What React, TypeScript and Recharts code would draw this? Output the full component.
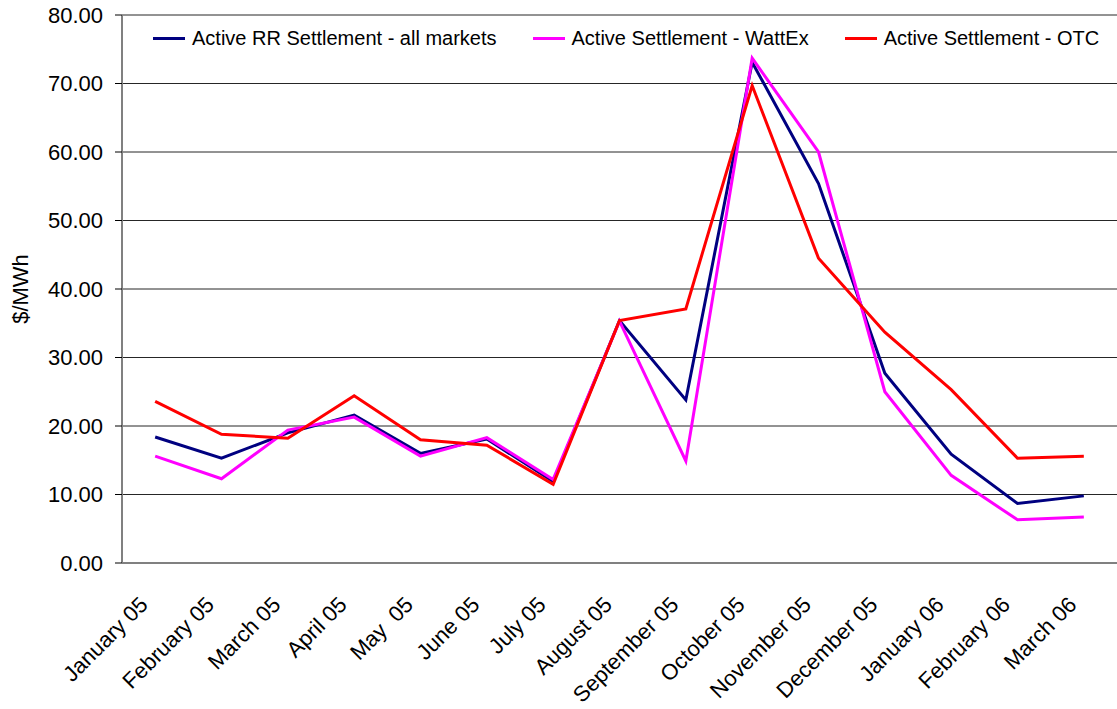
import React from 'react';
import { LineChart, Line, XAxis, YAxis, CartesianGrid } from 'recharts';

const months = [
  'January 05', 'February 05', 'March 05', 'April 05', 'May  05', 'June 05', 'July 05',
  'August 05', 'September 05', 'October 05', 'November 05', 'December 05',
  'January 06', 'February 06', 'March 06',
];
const rrAllMarkets = [18.4, 15.3, 19.0, 21.6, 16.0, 18.1, 11.9, 35.4, 23.8, 73.1, 55.4, 27.7, 15.9, 8.7, 9.8];
const wattEx = [15.6, 12.3, 19.4, 21.3, 15.6, 18.3, 12.2, 35.3, 14.9, 73.7, 60.0, 25.0, 12.8, 6.3, 6.7];
const otc = [23.6, 18.8, 18.2, 24.4, 18.0, 17.2, 11.5, 35.4, 37.1, 69.7, 44.5, 33.7, 25.3, 15.3, 15.6];
const yTicks = [0, 10, 20, 30, 40, 50, 60, 70, 80];

const series = [
  { key: 'rr', name: 'Active RR Settlement - all markets', color: '#000080', values: rrAllMarkets },
  { key: 'wattex', name: 'Active Settlement - WattEx', color: '#FF00FF', values: wattEx },
  { key: 'otc', name: 'Active Settlement - OTC', color: '#FF0000', values: otc },
];

const data = months.map((m, i) => ({
  month: m,
  rr: rrAllMarkets[i],
  wattex: wattEx[i],
  otc: otc[i],
}));

const edgeTicks = months.map((_, i) => i).concat(months.length);

const FONT = '"Liberation Sans", Arial, sans-serif';

// rotated month label, end of text sits just left of the category centre
const MonthTick = (props: any) => {
  const { x, y, payload } = props;
  return (
    <g transform={`translate(${x - 6},${y + 43})`}>
      <text
        transform="rotate(-45)"
        textAnchor="end"
        fontSize={22}
        fill="#000"
        fontFamily={FONT}
        style={{ whiteSpace: 'pre' }}
      >
        {payload.value}
      </text>
    </g>
  );
};

const UnitLabel = (props: any) => {
  const vb = props.viewBox || {};
  const cx = (vb.x || 0) + 20;
  const cy = (vb.y || 0) + (vb.height || 0) / 2;
  return (
    <text
      x={cx}
      y={cy}
      transform={`rotate(-90, ${cx}, ${cy})`}
      textAnchor="middle"
      dominantBaseline="central"
      fontSize={22}
      fill="#000"
      fontFamily={FONT}
    >
      $/MWh
    </text>
  );
};

export default function App() {
  return (
    <div style={{ position: 'absolute', left: 0, top: 0, width: 1117, height: 709, background: '#fff', fontFamily: FONT }}>
      <LineChart width={1117} height={709} data={data} margin={{ top: 15, right: 0, left: 0, bottom: 0 }}>
        <CartesianGrid vertical={false} stroke="#000" strokeOpacity={0.85} />
        <XAxis
          xAxisId="edge"
          type="number"
          domain={[0, months.length]}
          allowDataOverflow
          ticks={edgeTicks}
          tick={false}
          tickSize={7}
          tickLine={{ stroke: '#000' }}
          axisLine={false}
          height={0}
        />
        <XAxis
          dataKey="month"
          scale="band"
          interval={0}
          height={146}
          tickLine={false}
          tickSize={0}
          tickMargin={0}
          axisLine={{ stroke: '#808080', strokeWidth: 2 }}
          tick={<MonthTick />}
        />
        <YAxis
          width={122}
          domain={[0, 80]}
          ticks={yTicks}
          interval={0}
          tickFormatter={(v: number) => v.toFixed(2)}
          tickSize={7}
          tickMargin={12}
          tickLine={{ stroke: '#000' }}
          axisLine={{ stroke: '#808080', strokeWidth: 2 }}
          tick={{ fontSize: 22, fill: '#000', fontFamily: FONT }}
          label={{ content: <UnitLabel /> } as any}
        />
        {series.map((s) => (
          <Line
            key={s.key}
            type="linear"
            dataKey={s.key}
            name={s.name}
            stroke={s.color}
            strokeWidth={3}
            dot={false}
            isAnimationActive={false}
          />
        ))}
      </LineChart>
      <div
        style={{
          position: 'absolute',
          left: 153,
          top: 27,
          display: 'flex',
          alignItems: 'center',
          fontSize: 20,
          color: '#000',
          whiteSpace: 'nowrap',
        }}
      >
        {series.map((s) => (
          <div key={s.key} style={{ display: 'flex', alignItems: 'center', marginRight: 36 }}>
            <div style={{ width: 32, height: 3, background: s.color, marginRight: 7 }} />
            <span>{s.name}</span>
          </div>
        ))}
      </div>
    </div>
  );
}
